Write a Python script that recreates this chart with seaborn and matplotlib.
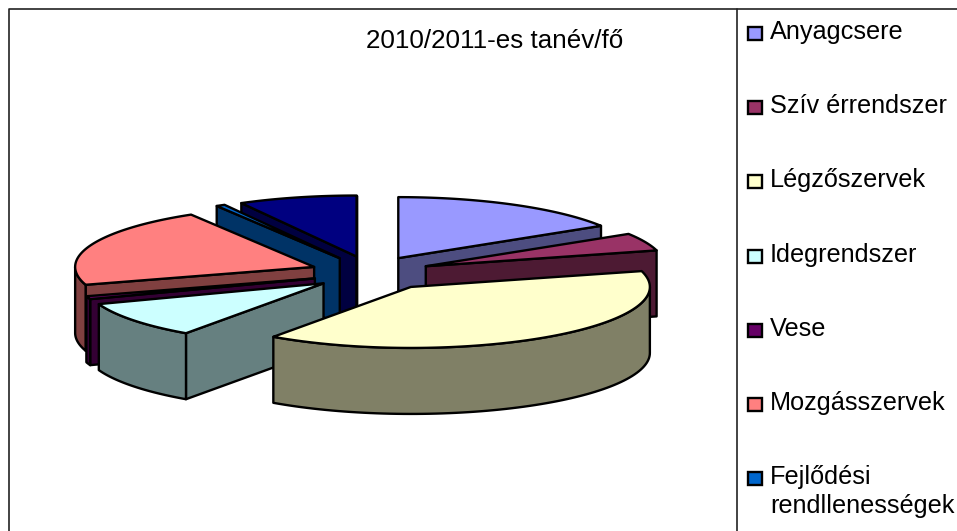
import numpy as np
import matplotlib.pyplot as plt
from matplotlib.patches import Polygon, Rectangle
import seaborn as sns

# slices in drawing order round the pie, clockwise from 12 o'clock (share of the total)
labels = ["Anyagcsere", "Szív érrendszer", "Légzőszervek", "Idegrendszer", "Vese",
          "Mozgásszervek", "Fejlődési\nrendllenességek", "Egyéb"]
values = [16.1, 4.7, 38.9, 9.7, 0.8, 21.1, 0.6, 8.0]
colors = ["#9999FF", "#993366", "#FFFFCC", "#CCFFFF", "#660066", "#FF8080", "#0066CC", "#000080"]
explode = [0.97, 1.03, 1.2, 1.03, 1.02, 1.05, 1.08, 1.0]
title = "2010/2011-es tanév/fő"
legend_count = 7  # the last entry is cut off in the chart

# pie shape in pixels
cx, cy = 371, 273
rx, ry = 239, 61
ex, ey = 58, 17
depth = 66

sns.set_theme(style="white")
plt.rcParams['font.family'] = ['Liberation Sans', 'DejaVu Sans']
palette = sns.color_palette(colors)

fig = plt.figure(figsize=(9.57, 5.31), dpi=100, facecolor="white")
ax = fig.add_axes([0, 0, 1, 1])
ax.set_xlim(0, 957)
ax.set_ylim(531, 0)
ax.axis("off")


def rim(t, ox, oy, dz=0):
    t = np.radians(t)
    return np.column_stack([ox + rx * np.sin(t), oy - ry * np.cos(t) + dz])


def draw_slice(start, end, color, factor):
    mid = np.radians((start + end) / 2)
    ox = cx + ex * factor * np.sin(mid)
    oy = cy - ey * np.cos(mid)
    dark = tuple(c * 0.5 for c in color)
    style = dict(edgecolor="black", linewidth=1.7, joinstyle="round")
    apex = np.array([[ox, oy]])
    down = np.array([0, depth])

    # radial walls, only where they face the viewer
    for edge, normal in ((start, start - 90), (end, end + 90)):
        if np.cos(np.radians(normal)) < 0:
            p = rim(edge, ox, oy)
            wall = np.vstack([apex, p, p + down, apex + down])
            ax.add_patch(Polygon(wall, facecolor=dark, **style))

    # outer wall, front half of the rim only
    lo, hi = max(start, 90), min(end, 270)
    if hi > lo:
        t = np.linspace(lo, hi, 80)
        wall = np.vstack([rim(t, ox, oy), rim(t[::-1], ox, oy, depth)])
        ax.add_patch(Polygon(wall, facecolor=dark, **style))

    # top face
    t = np.linspace(start, end, 120)
    ax.add_patch(Polygon(np.vstack([apex, rim(t, ox, oy)]), facecolor=color, **style))


shares = np.array(values) / np.sum(values) * 360
ends = np.cumsum(shares)
starts = ends - shares
mids = np.radians((starts + ends) / 2)

# back slices first
for i in np.argsort(-np.cos(mids)):
    draw_slice(starts[i], ends[i], palette[i], explode[i])

ax.text(495, 41, title, fontsize=18.7, color="black", ha="center", va="center")

# legend
for i in range(legend_count):
    y = 30 + 74.2 * i
    ax.add_patch(Rectangle((748, y - 3), 14, 13, facecolor=palette[i], edgecolor="black", linewidth=1.7))
    ax.text(770, y - 10, labels[i], fontsize=18.2, color="black", ha="left", va="top", linespacing=1.25)

# chart frame, cut by the picture edge on the right and the bottom
ax.plot([957, 9, 9], [9, 9, 531], color="#222222", lw=1.2, clip_on=True)
ax.plot([737, 737], [9, 531], color="#222222", lw=1.2)

fig.savefig("out.png", dpi=100)
